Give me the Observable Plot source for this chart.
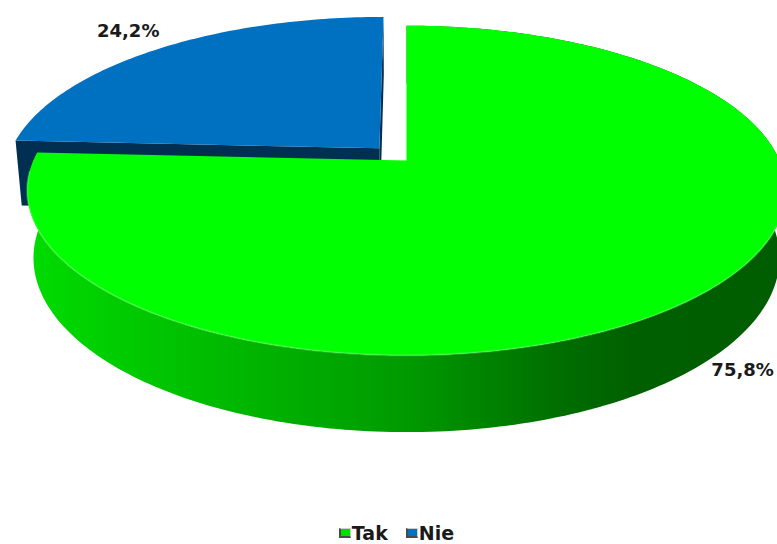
<!DOCTYPE html>
<html>
<head>
<meta charset="utf-8">
<script src="https://cdn.jsdelivr.net/npm/d3@7"></script>
<script src="https://cdn.jsdelivr.net/npm/@observablehq/plot@0.6"></script>
<style>
  html, body { margin: 0; padding: 0; background: #fff; overflow: hidden; }
  #chart svg { display: block; }
  .legend {
    display: flex; justify-content: center; align-items: flex-start;
    height: 22px; line-height: 22px; padding-left: 16px;
    font: bold 19px "DejaVu Sans", sans-serif; color: #1a1a1a;
  }
  .legend .item { display: flex; align-items: flex-start; margin: 0 9px; }
  .legend .sw {
    display: inline-block; box-sizing: border-box; width: 12px; height: 10px;
    margin: 6px 1px 0 0;
    border-left: 2px solid #4a4a4a; border-bottom: 2px solid #4a4a4a;
    border-top: 1px solid #d0d0d0; border-right: 1px solid #d0d0d0;
  }
</style>
</head>
<body>
<div id="chart"></div>
<script>
// Survey answers and their shares (percent)
const categories = ["Tak", "Nie"];
const shares = [75.8, 24.2];
const valueLabels = ["75,8%", "24,2%"];

// Palette per answer
const topColors = ["#00ff00", "#0070c0"];
const sideColors = ["url(#tak-side)", "#002f52"];
const swatchColors = ["#00e000", "#0070c0"];

// Layout of the 3D disc
const W = 777, H = 522;
const cx = 406, cy = 160;           // pixel position of the disc centre
const Kx = 373, Ky = 380;           // pixels per disc radius
const tilt = 24.8 * Math.PI / 180;  // viewing elevation
const D = 4.99;                     // camera distance (in radii)
const depth = 0.195;                // disc thickness (in radii)
const explode = [0, 0.107];         // slice pull-out (in radii)
const labelNudge = [[40, 77], [-30, -18]]; // label offset from rim, px

const sA = Math.sin(tilt), cA = Math.cos(tilt);
// u: right, v: toward the viewer, z: up; returns plot units (y up)
function project(u, v, z) {
  const d = D - (v * cA + z * sA);
  return {x: u * D / d, y: (-v * sA + z * cA) * D / d};
}
const rad = (deg) => deg * Math.PI / 180;
// angle measured clockwise from 12 o'clock
function rimPoint(deg, r, z, off) {
  const a = rad(deg);
  return project(Math.sin(a) * r + off.u, -Math.cos(a) * r + off.v, z);
}
function arc(a0, a1, r, z, off) {
  const n = Math.max(2, Math.ceil(Math.abs(a1 - a0)));
  return d3.range(n + 1).map((i) => rimPoint(a0 + (a1 - a0) * i / n, r, z, off));
}

const total = d3.sum(shares);
let acc = 0;
const slices = categories.map((name, i) => {
  const a0 = acc / total * 360;
  acc += shares[i];
  const a1 = acc / total * 360;
  const mid = (a0 + a1) / 2;
  const off = {u: Math.sin(rad(mid)) * explode[i], v: -Math.cos(rad(mid)) * explode[i]};
  return {name, i, a0, a1, mid, off};
});

const faces = slices.map((s) => {
  const c0 = project(s.off.u, s.off.v, 0);
  const c1 = project(s.off.u, s.off.v, -depth);
  // flat walls along the two cut edges
  const radial = (deg) => [c0, rimPoint(deg, 1, 0, s.off), rimPoint(deg, 1, -depth, s.off), c1];
  // curved outer wall
  const wall = arc(s.a0, s.a1, 1, 0, s.off).concat(arc(s.a1, s.a0, 1, -depth, s.off));
  const top = [c0].concat(arc(s.a0, s.a1, 1, 0, s.off));
  return {s, radial0: radial(s.a0), radial1: radial(s.a1), wall, top};
});

const tak = faces[0], nie = faces[1];
const face = (pts, fill) => Plot.line(pts, {x: "x", y: "y", fill, stroke: "none", curve: "linear-closed"});

const labelData = slices.map((s) => {
  const p = rimPoint(s.mid, 1, 0, s.off);
  return {x: p.x + labelNudge[s.i][0] / Kx, y: p.y - labelNudge[s.i][1] / Ky, text: valueLabels[s.i]};
});

const rimHighlight = arc(100, 266, 1, 0, slices[0].off);

const gradient = () => {
  const defs = d3.create("svg:defs");
  const g = defs.append("linearGradient").attr("id", "tak-side")
    .attr("x1", 0).attr("x2", 1).attr("y1", 0).attr("y2", 0);
  [[0, "#00dc00"], [0.3, "#00b400"], [0.5, "#009a00"], [0.7, "#006e00"], [0.8, "#006000"], [1, "#005c00"]]
    .forEach(([o, c]) => g.append("stop").attr("offset", o).attr("stop-color", c));
  return defs.node();
};

const chart = Plot.plot({
  width: W,
  height: H,
  margin: 0,
  x: {domain: [-cx / Kx, (W - cx) / Kx], axis: null},
  y: {domain: [-(H - cy) / Ky, cy / Ky], axis: null},
  marks: [
    gradient,
    // pulled-out slice
    face(nie.radial1, sideColors[1]),
    face(nie.radial0, sideColors[1]),
    face(nie.top, topColors[1]),
    // main slice
    face(tak.wall, sideColors[0]),
    face(tak.top, topColors[0]),
    Plot.line(rimHighlight, {x: "x", y: "y", stroke: "#8cff8c", strokeWidth: 2, strokeOpacity: 0.3}),
    Plot.text(labelData, {x: "x", y: "y", text: "text", fontSize: 18, fontWeight: "bold",
      fontFamily: "DejaVu Sans", fill: "#1a1a1a"})
  ]
});
document.getElementById("chart").appendChild(chart);

const legend = d3.select("body").append("div").attr("class", "legend");
categories.forEach((name, i) => {
  const item = legend.append("div").attr("class", "item");
  item.append("span").attr("class", "sw").style("background", swatchColors[i]);
  item.append("span").text(name);
});
</script>
</body>
</html>
